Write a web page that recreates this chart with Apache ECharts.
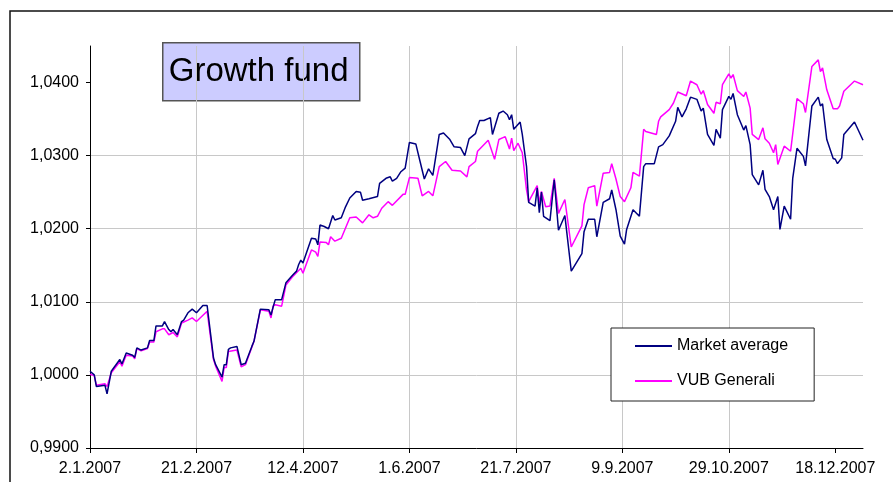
<!DOCTYPE html>
<html>
<head>
<meta charset="utf-8">
<script src="https://cdn.jsdelivr.net/npm/echarts@6/dist/echarts.min.js"></script>
<style>
  html, body { margin: 0; padding: 0; background: #fff; }
  #chart { width: 893px; height: 482px; }
</style>
</head>
<body>
<div id="chart"></div>
<script>
// x = days since 2.1.2007
const marketDays = [0, 2, 3, 7, 8, 10, 14, 15, 17, 20, 21, 22, 24, 27, 28, 30, 31, 34, 35, 37, 38, 39, 41, 43, 44, 46, 48, 50, 53, 55, 58, 59, 62, 63, 64, 65, 66, 69, 71, 73, 76, 77, 80, 84, 85, 86, 87, 90, 92, 95, 97, 98, 99, 100, 104, 106, 107, 108, 110, 112, 114, 115, 118, 120, 122, 125, 127, 128, 131, 135, 136, 139, 141, 142, 144, 146, 148, 150, 153, 155, 157, 159, 161, 164, 166, 169, 171, 174, 176, 178, 181, 182, 183, 185, 188, 189, 192, 194, 196, 197, 198, 199, 202, 203, 205, 206, 209, 210, 211, 212, 213, 216, 218, 220, 223, 226, 231, 232, 234, 237, 238, 241, 244, 245, 247, 249, 251, 252, 255, 258, 260, 261, 265, 267, 269, 272, 275, 276, 278, 280, 282, 285, 287, 288, 290, 293, 294, 296, 297, 300, 301, 302, 304, 307, 308, 310, 311, 314, 316, 317, 319, 321, 323, 324, 326, 329, 330, 332, 335, 336, 339, 342, 343, 344, 346, 349, 350, 351, 353, 354, 359, 363]
const marketAverage = [1.0005, 1.0000, 0.9984, 0.9986, 0.9974, 1.0005, 1.0021, 1.0015, 1.0030, 1.0027, 1.0024, 1.0037, 1.0034, 1.0037, 1.0047, 1.0047, 1.0067, 1.0067, 1.0073, 1.0062, 1.0059, 1.0062, 1.0055, 1.0073, 1.0075, 1.0085, 1.0090, 1.0085, 1.0095, 1.0095, 1.0023, 1.0014, 0.9997, 1.0014, 1.0014, 1.0035, 1.0037, 1.0039, 1.0014, 1.0016, 1.0039, 1.0046, 1.0090, 1.0089, 1.0082, 1.0093, 1.0103, 1.0103, 1.0126, 1.0136, 1.0142, 1.0151, 1.0157, 1.0153, 1.0187, 1.0186, 1.0178, 1.0205, 1.0203, 1.0200, 1.0218, 1.0212, 1.0215, 1.0230, 1.0242, 1.0251, 1.0250, 1.0239, 1.0241, 1.0244, 1.0262, 1.0269, 1.0271, 1.0265, 1.0269, 1.0278, 1.0283, 1.0318, 1.0316, 1.0292, 1.0268, 1.0282, 1.0273, 1.0329, 1.0331, 1.0322, 1.0312, 1.0311, 1.0300, 1.0323, 1.0330, 1.0340, 1.0348, 1.0348, 1.0352, 1.0329, 1.0358, 1.0361, 1.0356, 1.0349, 1.0356, 1.0336, 1.0346, 1.0329, 1.0285, 1.0236, 1.0231, 1.0256, 1.0222, 1.0250, 1.0217, 1.0211, 1.0267, 1.0198, 1.0218, 1.0142, 1.0166, 1.0196, 1.0213, 1.0213, 1.0189, 1.0236, 1.0241, 1.0253, 1.0226, 1.0190, 1.0179, 1.0199, 1.0226, 1.0217, 1.0285, 1.0289, 1.0289, 1.0312, 1.0315, 1.0327, 1.0347, 1.0366, 1.0353, 1.0364, 1.0380, 1.0377, 1.0361, 1.0365, 1.0329, 1.0314, 1.0336, 1.0324, 1.0363, 1.0381, 1.0377, 1.0385, 1.0356, 1.0335, 1.0341, 1.0315, 1.0274, 1.0260, 1.0280, 1.0254, 1.0244, 1.0226, 1.0244, 1.0199, 1.0231, 1.0213, 1.0269, 1.0310, 1.0299, 1.0286, 1.0368, 1.0380, 1.0368, 1.0371, 1.0322, 1.0296, 1.0295, 1.0289, 1.0297, 1.0329, 1.0346, 1.0321]

const vubDays = [0, 2, 3, 7, 8, 10, 14, 15, 17, 20, 21, 22, 24, 27, 28, 30, 31, 34, 35, 37, 39, 41, 43, 46, 48, 50, 55, 58, 59, 62, 63, 64, 65, 69, 71, 73, 76, 77, 80, 84, 85, 86, 87, 90, 92, 95, 99, 100, 104, 106, 107, 108, 111, 112, 113, 115, 118, 120, 122, 125, 128, 131, 133, 135, 137, 140, 142, 147, 148, 150, 154, 156, 159, 161, 164, 167, 170, 174, 177, 178, 181, 182, 187, 190, 192, 195, 197, 198, 199, 201, 203, 205, 206, 210, 211, 212, 214, 216, 218, 220, 223, 226, 231, 232, 234, 237, 238, 241, 244, 245, 247, 249, 251, 254, 255, 258, 260, 261, 266, 267, 268, 272, 274, 276, 280, 282, 285, 287, 288, 290, 293, 294, 296, 297, 300, 301, 302, 304, 307, 308, 310, 311, 314, 316, 317, 319, 321, 322, 323, 326, 329, 332, 335, 336, 339, 342, 343, 344, 346, 349, 351, 352, 354, 359, 363]
const vubGenerali = [1.0001, 0.9999, 0.9986, 0.9988, 0.9984, 1.0003, 1.0018, 1.0012, 1.0027, 1.0026, 1.0022, 1.0036, 1.0033, 1.0036, 1.0045, 1.0045, 1.0059, 1.0063, 1.0063, 1.0055, 1.0058, 1.0052, 1.0071, 1.0075, 1.0078, 1.0073, 1.0087, 1.0021, 1.0012, 0.9991, 1.0010, 1.0010, 1.0032, 1.0034, 1.0011, 1.0014, 1.0038, 1.0046, 1.0089, 1.0087, 1.0078, 1.0094, 1.0096, 1.0094, 1.0123, 1.0134, 1.0146, 1.0139, 1.0171, 1.0168, 1.0162, 1.0182, 1.0181, 1.0178, 1.0189, 1.0183, 1.0187, 1.0201, 1.0215, 1.0216, 1.0208, 1.0219, 1.0215, 1.0217, 1.0228, 1.0237, 1.0232, 1.0247, 1.0247, 1.0270, 1.0269, 1.0245, 1.0251, 1.0245, 1.0285, 1.0292, 1.0280, 1.0279, 1.0271, 1.0285, 1.0292, 1.0306, 1.0321, 1.0295, 1.0322, 1.0326, 1.0309, 1.0324, 1.0307, 1.0317, 1.0304, 1.0253, 1.0237, 1.0259, 1.0235, 1.0251, 1.0230, 1.0231, 1.0269, 1.0221, 1.0240, 1.0175, 1.0204, 1.0233, 1.0256, 1.0259, 1.0231, 1.0276, 1.0277, 1.0289, 1.0268, 1.0244, 1.0237, 1.0256, 1.0277, 1.0272, 1.0336, 1.0333, 1.0329, 1.0347, 1.0353, 1.0363, 1.0372, 1.0387, 1.0382, 1.0402, 1.0397, 1.0384, 1.0389, 1.0370, 1.0358, 1.0373, 1.0371, 1.0397, 1.0412, 1.0406, 1.0411, 1.0389, 1.0381, 1.0387, 1.0365, 1.0329, 1.0322, 1.0338, 1.0323, 1.0317, 1.0304, 1.0315, 1.0288, 1.0313, 1.0306, 1.0378, 1.0371, 1.0359, 1.0422, 1.0431, 1.0415, 1.0420, 1.0390, 1.0364, 1.0364, 1.0368, 1.0388, 1.0402, 1.0397]

const xTickDays = [0, 50, 100, 150, 200, 250, 300, 350]
const yTicks = [0.99, 1.00, 1.01, 1.02, 1.03, 1.04]

const FONT = 'Liberation Sans, Arial, Helvetica, sans-serif'

// day offset -> d.m.yyyy
const dayLabel = (v) => {
  const d = new Date(2007, 0, 2 + Math.round(v))
  return d.getDate() + '.' + (d.getMonth() + 1) + '.' + d.getFullYear()
}

const pairs = (xs, ys) => xs.map((x, i) => [x, ys[i]])

const chart = echarts.init(document.getElementById('chart'))

chart.setOption({
  animation: false,
  backgroundColor: '#fff',
  grid: { left: 90, top: 46, width: 773, height: 402, containLabel: false },
  legend: {
    left: 611,
    top: 328,
    orient: 'vertical',
    icon: 'rect',
    itemWidth: 37,
    itemHeight: 2,
    itemGap: 19,
    padding: [10, 26, 12, 24],
    backgroundColor: '#fff',
    borderColor: '#222',
    borderWidth: 1,
    textStyle: { fontFamily: FONT, fontSize: 16, color: '#000', lineHeight: 16 },
    data: ['Market average', 'VUB Generali']
  },
  xAxis: {
    type: 'value',
    min: 0,
    max: 363,
    interval: 50,
    axisLine: { lineStyle: { color: '#000', width: 1 } },
    axisTick: { show: true, length: 5, customValues: xTickDays, lineStyle: { color: '#000' } },
    axisLabel: {
      customValues: xTickDays,
      margin: 13,
      fontFamily: FONT,
      fontSize: 16,
      color: '#000',
      formatter: dayLabel
    },
    splitLine: { show: true, showMaxLine: false, lineStyle: { color: '#c8c8c8', width: 1 } }
  },
  yAxis: {
    type: 'value',
    min: 0.99,
    max: 1.045,
    interval: 0.01,
    axisLine: { show: true, lineStyle: { color: '#000', width: 1 } },
    axisTick: { show: true, length: 4, customValues: yTicks, lineStyle: { color: '#000' } },
    axisLabel: {
      customValues: yTicks,
      margin: 11,
      fontFamily: FONT,
      fontSize: 16,
      color: '#000',
      formatter: (v) => v.toFixed(4).replace('.', ',')
    },
    splitLine: { show: true, showMaxLine: false, lineStyle: { color: '#c8c8c8', width: 1 } }
  },
  series: [
    {
      name: 'Market average',
      type: 'line',
      data: pairs(marketDays, marketAverage),
      showSymbol: false,
      color: '#000080',
      lineStyle: { color: '#000080', width: 1.5 },
      z: 3
    },
    {
      name: 'VUB Generali',
      type: 'line',
      data: pairs(vubDays, vubGenerali),
      showSymbol: false,
      color: '#ff00ff',
      lineStyle: { color: '#ff00ff', width: 1.5 },
      z: 2
    }
  ],
  graphic: [
    // outer chart frame
    {
      type: 'rect',
      shape: { x: 10, y: 11, width: 1000, height: 600 },
      style: { fill: null, stroke: '#111', lineWidth: 1.5 },
      silent: true
    },
    {
      type: 'group',
      left: 162,
      top: 42,
      z: 10,
      children: [
        {
          type: 'rect',
          shape: { x: 0, y: 0, width: 197, height: 58 },
          style: { fill: '#ccccff', stroke: '#555', lineWidth: 1.5 }
        },
        {
          type: 'text',
          x: 6,
          y: 29,
          style: {
            text: 'Growth fund',
            fontFamily: FONT,
            fontSize: 33,
            fill: '#000',
            verticalAlign: 'middle'
          }
        }
      ]
    }
  ]
})
</script>
</body>
</html>
